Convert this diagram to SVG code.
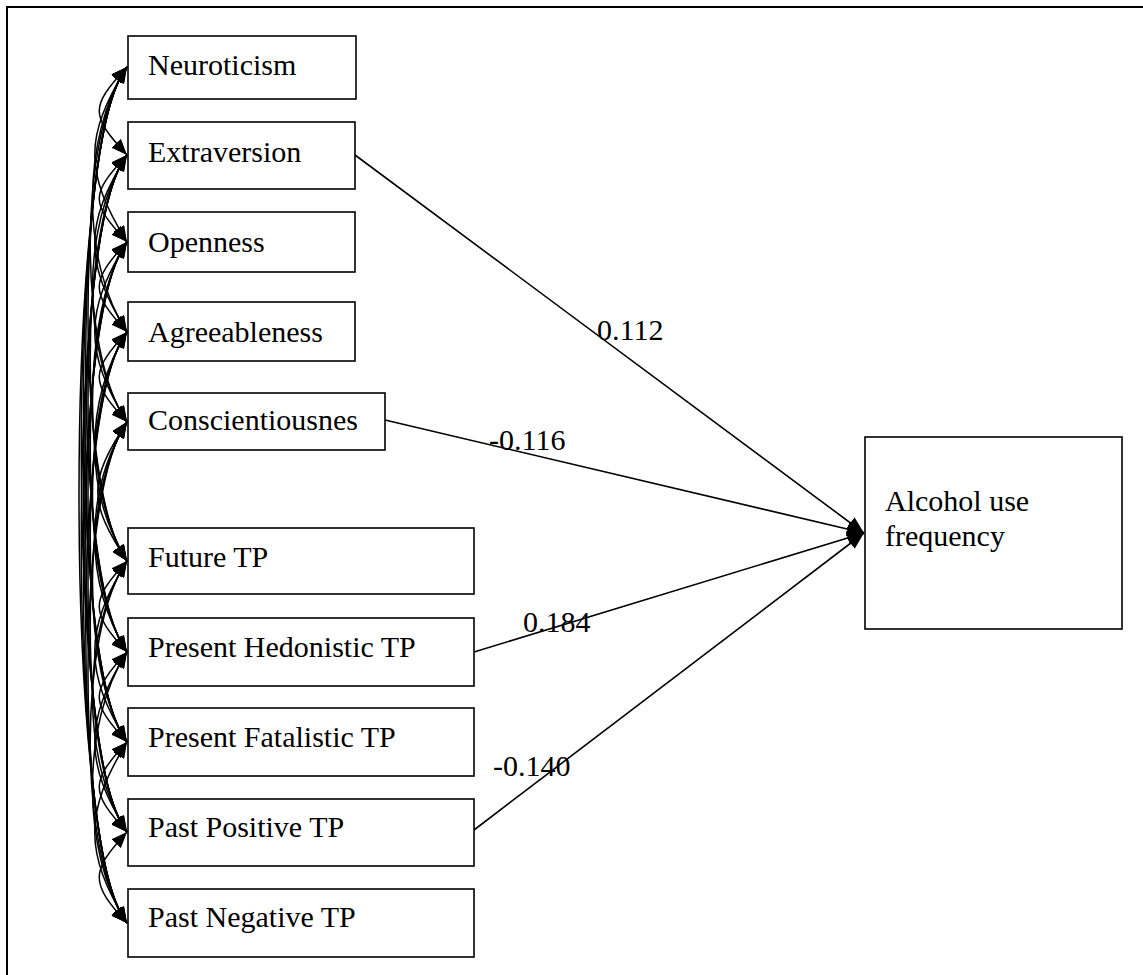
<svg xmlns="http://www.w3.org/2000/svg" width="1143" height="975" viewBox="0 0 1143 975">
<style>
.box{fill:#fff;stroke:#000;stroke-width:1.6}
.t{font-family:"Liberation Serif","Times New Roman",serif;font-size:30px;fill:#000}
.arc{fill:none;stroke:#000;stroke-width:1.5;marker-start:url(#ah);marker-end:url(#ah)}
.ln{fill:none;stroke:#000;stroke-width:1.6;marker-end:url(#ah2)}
</style>
<defs>
<marker id="ah" markerUnits="userSpaceOnUse" markerWidth="16" markerHeight="13" refX="16" refY="6.5" orient="auto-start-reverse"><path d="M0,0 L16,6.5 L0,13 z" fill="#000"/></marker>
<marker id="ah2" markerUnits="userSpaceOnUse" markerWidth="17" markerHeight="14" refX="17" refY="7" orient="auto"><path d="M0,0 L17,7 L0,14 z" fill="#000"/></marker>
</defs>
<rect x="7" y="7" width="1200" height="1000" fill="#fff" stroke="#000" stroke-width="2"/>
<g id="connectors">
<path class="arc" d="M127 67 C90 107 90 115 127 155"/>
<path class="arc" d="M127 67 C84 137 84 172 127 242"/>
<path class="arc" d="M127 67 C81 137 81 262 127 332"/>
<path class="arc" d="M127 67 C78 137 78 352 127 422"/>
<path class="arc" d="M127 67 C75 137 75 491 127 561"/>
<path class="arc" d="M127 67 C72 137 72 582 127 652"/>
<path class="arc" d="M127 67 C69 137 69 672 127 742"/>
<path class="arc" d="M127 67 C66 137 66 762 127 832"/>
<path class="arc" d="M127 67 C63 137 63 853 127 923"/>
<path class="arc" d="M127 155 C90 195 90 202 127 242"/>
<path class="arc" d="M127 155 C84 225 84 262 127 332"/>
<path class="arc" d="M127 155 C81 225 81 352 127 422"/>
<path class="arc" d="M127 155 C78 225 78 491 127 561"/>
<path class="arc" d="M127 155 C75 225 75 582 127 652"/>
<path class="arc" d="M127 155 C72 225 72 672 127 742"/>
<path class="arc" d="M127 155 C69 225 69 762 127 832"/>
<path class="arc" d="M127 155 C66 225 66 853 127 923"/>
<path class="arc" d="M127 242 C90 282 90 292 127 332"/>
<path class="arc" d="M127 242 C84 312 84 352 127 422"/>
<path class="arc" d="M127 242 C81 312 81 491 127 561"/>
<path class="arc" d="M127 242 C78 312 78 582 127 652"/>
<path class="arc" d="M127 242 C75 312 75 672 127 742"/>
<path class="arc" d="M127 242 C72 312 72 762 127 832"/>
<path class="arc" d="M127 242 C69 312 69 853 127 923"/>
<path class="arc" d="M127 332 C90 372 90 382 127 422"/>
<path class="arc" d="M127 332 C84 402 84 491 127 561"/>
<path class="arc" d="M127 332 C81 402 81 582 127 652"/>
<path class="arc" d="M127 332 C78 402 78 672 127 742"/>
<path class="arc" d="M127 332 C75 402 75 762 127 832"/>
<path class="arc" d="M127 332 C72 402 72 853 127 923"/>
<path class="arc" d="M127 422 C88 482 88 501 127 561"/>
<path class="arc" d="M127 422 C84 492 84 582 127 652"/>
<path class="arc" d="M127 422 C81 492 81 672 127 742"/>
<path class="arc" d="M127 422 C78 492 78 762 127 832"/>
<path class="arc" d="M127 422 C75 492 75 853 127 923"/>
<path class="arc" d="M127 561 C90 601 90 612 127 652"/>
<path class="arc" d="M127 561 C84 631 84 672 127 742"/>
<path class="arc" d="M127 561 C81 631 81 762 127 832"/>
<path class="arc" d="M127 561 C78 631 78 853 127 923"/>
<path class="arc" d="M127 652 C90 692 90 702 127 742"/>
<path class="arc" d="M127 652 C84 722 84 762 127 832"/>
<path class="arc" d="M127 652 C81 722 81 853 127 923"/>
<path class="arc" d="M127 742 C90 782 90 792 127 832"/>
<path class="arc" d="M127 742 C84 812 84 853 127 923"/>
<path class="arc" d="M127 832 C90 872 90 883 127 923"/>
<path class="ln" d="M355 155 L864 533"/>
<path class="ln" d="M385 420 L864 533"/>
<path class="ln" d="M474 652 L864 533"/>
<path class="ln" d="M474 830 L864 533"/>
</g>
<g id="n-neuroticism"><rect class="box" x="128" y="36" width="228" height="63"/><text class="t" x="148" y="75">Neuroticism</text></g>
<g id="n-extraversion"><rect class="box" x="128" y="122" width="227" height="67"/><text class="t" x="148" y="162">Extraversion</text></g>
<g id="n-openness"><rect class="box" x="128" y="212" width="227" height="60"/><text class="t" x="148" y="252">Openness</text></g>
<g id="n-agreeableness"><rect class="box" x="128" y="302" width="227" height="59"/><text class="t" x="148" y="342">Agreeableness</text></g>
<g id="n-conscientiousnes"><rect class="box" x="128" y="393" width="257" height="57"/><text class="t" x="148" y="430">Conscientiousnes</text></g>
<g id="n-future"><rect class="box" x="128" y="528" width="346" height="66"/><text class="t" x="148" y="567">Future TP</text></g>
<g id="n-presenthed"><rect class="box" x="128" y="618" width="346" height="68"/><text class="t" x="148" y="657">Present Hedonistic TP</text></g>
<g id="n-presentfat"><rect class="box" x="128" y="708" width="346" height="68"/><text class="t" x="148" y="747">Present Fatalistic TP</text></g>
<g id="n-pastpos"><rect class="box" x="128" y="799" width="346" height="67"/><text class="t" x="148" y="837">Past Positive TP</text></g>
<g id="n-pastneg"><rect class="box" x="128" y="889" width="346" height="68"/><text class="t" x="148" y="927">Past Negative TP</text></g>
<g id="n-alcohol"><rect class="box" x="865" y="437" width="257" height="192"/><text class="t" x="885" y="511">Alcohol use</text><text class="t" x="885" y="546">frequency</text></g>
<g id="labels">
<text class="t" x="597" y="340">0.112</text>
<text class="t" x="489" y="450">-0.116</text>
<text class="t" x="523" y="632">0.184</text>
<text class="t" x="493" y="776">-0.140</text>
</g>
</svg>
